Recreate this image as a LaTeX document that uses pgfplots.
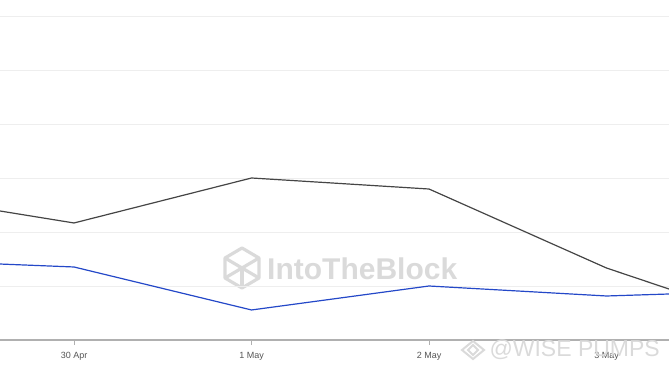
\documentclass[border=0pt]{standalone}
\usepackage{pgfplots}
\pgfplotsset{compat=1.18}
\usepackage{fontspec}
\setmainfont{Liberation Sans}
\definecolor{blk}{HTML}{454545}
\definecolor{blu}{HTML}{2448C8}
\definecolor{grd}{HTML}{EEEEEE}
\definecolor{axg}{HTML}{B0B0B0}
\definecolor{lbl}{HTML}{555555}
\definecolor{wm}{HTML}{DADADA}
\begin{document}
\begin{tikzpicture}
\path[use as bounding box] (0,-35pt) rectangle (669pt,340pt);
% watermarks (behind the data)
\begin{scope}[wm, line width=3.2pt, line join=round]
\draw (242pt,92pt) -- (259pt,82pt) -- (259pt,62pt) -- (242pt,52pt) -- (225pt,62pt) -- (225pt,82pt) -- cycle;
\draw (225pt,82pt) -- (259pt,62pt);
\draw (259pt,82pt) -- (225pt,62pt);
\draw (242pt,72pt) -- (242pt,52pt);
\end{scope}
\node[text=wm, font=\bfseries\fontsize{30}{32}\selectfont, anchor=west, inner sep=0pt] at (267pt,71pt) {IntoTheBlock};
\begin{axis}[
  scale only axis, width=669pt, height=340pt,
  xmin=-0.417, xmax=3.352, ymin=0, ymax=6.296,
  axis x line*=bottom,
  axis y line*=left,
  x axis line style={draw=axg, line width=1.5pt},
  y axis line style={draw=none},
  xtick={0,1,2,3}, xticklabels={30 Apr,1 May,2 May,3 May},
  xticklabel style={font=\fontsize{9}{10}\selectfont, text=lbl, yshift=-4pt},
  xtick style={draw=axg, line width=0.8pt},
  major tick length=5pt,
  tick align=outside,
  ytick={1,2,3,4,5,6}, yticklabels={},
  ytick style={draw=none},
  ymajorgrids, grid style={draw=grd, line width=0.8pt},
  clip=true,
]
\addplot[blk, line width=1.2pt] coordinates {
(-0.417,2.389) (0,2.167) (1,3.0) (2,2.796) (3,1.333) (3.352,0.944)};
\addplot[blu, line width=1.2pt] coordinates {
(-0.417,1.407) (0,1.352) (1,0.556) (2,1.0) (3,0.815) (3.352,0.852)};
\end{axis}
\begin{scope}[wm, line width=2pt]
\draw (473pt,-1pt) -- (484pt,-10pt) -- (473pt,-19pt) -- (462pt,-10pt) -- cycle;
\draw (473pt,-5pt) -- (478pt,-10pt) -- (473pt,-15pt) -- (468pt,-10pt) -- cycle;
\end{scope}
\node[text=wm, font=\fontsize{23}{26}\selectfont, anchor=west] at (486pt,-10pt) {@WISE PUMPS};
\end{tikzpicture}
\end{document}
